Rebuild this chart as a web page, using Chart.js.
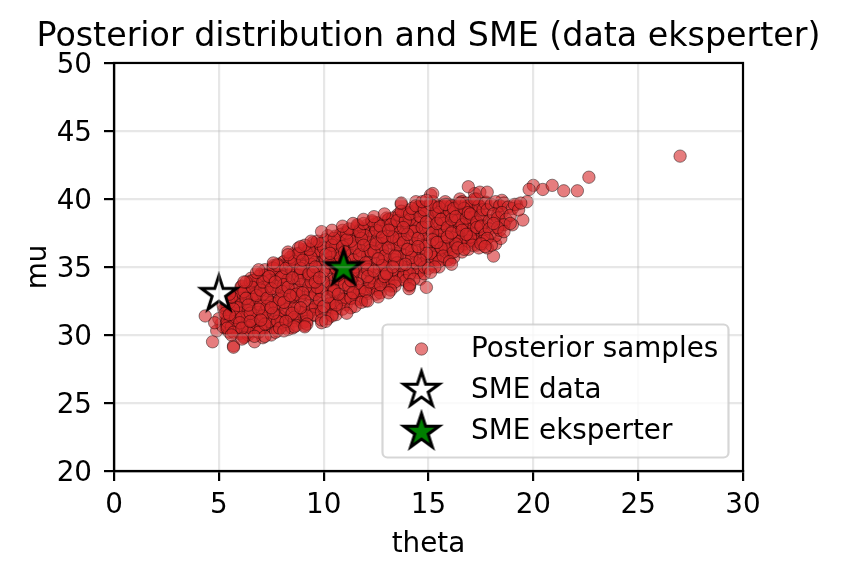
<!DOCTYPE html>
<html>
<head>
<meta charset="utf-8">
<style>
  html, body { margin: 0; padding: 0; background: #fff; }
  canvas { display: block; }
</style>
<script src="https://cdn.jsdelivr.net/npm/chart.js@4"></script>
</head>
<body>
<canvas id="posteriorChart" width="841" height="578"></canvas>
<script>
// ----- DATA -----
const thetaTicks = [0, 5, 10, 15, 20, 25, 30];
const muTicks = [20, 25, 30, 35, 40, 45, 50];
const smeData = [{ x: 5, y: 33 }];
const smeEksperter = [{ x: 10.95, y: 34.9 }];

// the core of the cloud can't be resolved point by point, these are estimates
const thetaSamples = [
  5.33,5.62,5.41,5.71,5.52,5.24,5.66,5.47,5.74,5.56,5.69,5.38,5.58,5.29,5.64,5.51,5.36,5.77,5.43,5.61,
  5.82,6.12,5.89,6.21,6.03,5.76,6.17,5.94,6.26,6.06,6.19,5.91,6.04,5.79,6.13,5.98,5.86,6.24,5.96,6.09,
  6.31,6.59,6.42,6.72,6.48,6.27,6.63,6.44,6.77,6.53,6.68,6.39,6.56,6.33,6.64,6.51,6.37,6.74,6.46,6.61,
  6.83,7.08,6.91,7.19,7.02,6.74,7.16,6.97,7.24,7.04,7.21,6.88,7.07,6.81,7.14,6.99,6.86,7.26,6.93,7.11,
  7.28,7.63,7.38,7.72,7.49,7.26,7.66,7.43,7.73,7.57,7.68,7.41,7.54,7.31,7.62,7.52,7.34,7.76,7.44,7.58,
  7.84,8.09,7.92,8.18,8.03,7.77,8.14,7.96,8.26,8.07,8.21,7.89,8.06,7.82,8.13,7.99,7.87,8.23,7.94,8.11,
  8.33,8.58,8.41,8.71,8.52,8.26,8.64,8.47,8.73,8.56,8.67,8.38,8.54,8.29,8.63,8.51,8.36,8.74,8.43,8.61,
  8.81,9.12,8.88,9.21,9.02,8.76,9.16,8.94,9.24,9.06,9.19,8.91,9.04,8.79,9.13,8.98,8.86,9.27,8.96,9.09,
  9.29,9.61,9.41,9.69,9.52,9.24,9.66,9.46,9.73,9.54,9.71,9.38,9.57,9.32,9.64,9.49,9.36,9.76,9.44,9.59,
  9.82,10.09,9.92,10.21,10.02,9.74,10.16,9.94,10.26,10.04,10.18,9.89,10.06,9.81,10.13,9.98,9.87,10.24,9.93,10.11,
  10.31,10.59,10.42,10.68,10.49,10.26,10.66,10.44,10.74,10.56,10.71,10.39,10.54,10.28,10.63,10.52,10.34,10.76,10.46,10.61,
  10.82,11.11,10.89,11.22,11.01,10.74,11.16,10.93,11.24,11.04,11.21,10.91,11.06,10.79,11.14,10.99,10.86,11.26,10.94,11.08,
  11.31,11.62,11.39,11.71,11.52,11.27,11.66,11.44,11.74,11.56,11.68,11.41,11.54,11.29,11.63,11.49,11.36,11.73,11.43,11.59,
  11.82,12.09,11.91,12.19,12.03,11.76,12.16,11.94,12.24,12.06,12.21,11.88,12.04,11.81,12.14,11.98,11.86,12.26,11.96,12.08,
  12.31,12.62,12.39,12.68,12.51,12.24,12.64,12.44,12.76,12.54,12.71,12.41,12.57,12.32,12.66,12.48,12.36,12.74,12.43,12.61,
  12.83,13.09,12.91,13.21,13.02,12.76,13.13,12.94,13.24,13.06,13.18,12.89,13.04,12.79,13.16,12.98,12.87,13.26,12.93,13.11,
  13.31,13.59,13.41,13.72,13.51,13.26,13.66,13.44,13.74,13.54,13.69,13.39,13.56,13.29,13.63,13.48,13.36,13.76,13.46,13.61,
  13.82,14.12,13.89,14.19,14.01,13.74,14.16,13.94,14.26,14.04,14.22,13.91,14.07,13.81,14.14,13.99,13.86,14.24,13.96,14.09,
  14.29,14.61,14.39,14.71,14.52,14.24,14.66,14.44,14.76,14.57,14.69,14.41,14.54,14.31,14.63,14.49,14.36,14.74,14.46,14.58,
  14.82,15.09,14.91,15.21,15.03,14.76,15.14,14.94,15.26,15.06,15.19,14.89,15.04,14.79,15.16,14.98,14.86,15.24,14.93,15.11,
  15.31,15.61,15.41,15.69,15.52,15.26,15.64,15.46,15.74,15.56,15.71,15.38,15.54,15.29,15.66,15.49,15.36,15.76,15.44,15.59,
  15.81,16.11,15.89,16.19,16.02,15.76,16.16,15.94,16.24,16.06,16.21,15.91,16.04,15.82,16.13,15.98,15.86,16.26,15.96,16.08,
  16.31,16.62,16.39,16.72,16.51,16.24,16.66,16.44,16.74,16.56,16.68,16.41,16.54,16.29,16.64,16.49,16.36,16.76,16.46,16.59,
  16.82,17.09,16.91,17.21,17.02,16.76,17.16,16.94,17.24,17.06,17.19,16.89,17.04,16.79,17.13,16.98,16.87,17.26,16.93,17.11,
  17.31,17.62,17.39,17.72,17.52,17.26,17.66,17.44,17.74,17.56,
  5.1,5.3,4.9,5.4,5.2,5.0,5.5,5.3,4.8,5.6,5.2,5.4,
  5.7,6.0,5.8,6.1,5.9,6.2,5.7,6.0,6.3,5.8,6.1,5.9,
  6.4,6.7,6.5,6.8,6.6,6.9,6.4,6.7,6.5,6.8,6.6,7.0,
  7.1,7.4,7.2,7.5,7.3,7.0,7.6,7.2,7.4,7.1,7.5,7.3,
  7.8,8.1,7.9,8.2,8.0,7.7,8.3,8.0,8.1,7.8,8.2,8.0,
  8.5,8.8,8.6,8.9,8.7,8.4,9.0,8.6,8.8,8.5,8.9,8.7,
  9.2,9.5,9.3,9.6,9.4,9.1,9.7,9.3,9.5,9.2,9.6,9.4,
  9.9,10.2,10.0,10.3,10.1,9.8,10.4,10.0,10.2,9.9,10.3,10.1,
  10.6,10.9,10.7,11.0,10.8,10.5,11.1,10.7,10.9,10.6,11.0,10.8,
  11.3,11.6,11.4,11.7,11.5,11.2,11.8,11.4,11.6,11.3,11.7,11.5,
  12.0,12.3,12.1,12.4,12.2,11.9,12.5,12.1,12.3,12.0,12.4,12.2,
  12.7,13.0,12.8,13.1,12.9,12.6,13.2,12.8,13.0,12.7,13.1,12.9,
  13.4,13.7,13.5,13.8,13.6,13.3,13.9,13.5,13.7,13.4,13.8,13.6,
  14.1,14.4,14.2,14.5,14.3,14.0,14.6,14.2,14.4,14.1,14.5,14.3,
  14.8,15.1,14.9,15.2,15.0,14.7,15.3,14.9,15.1,14.8,15.2,15.0,
  15.5,15.8,15.6,15.9,15.7,15.4,16.0,15.6,15.8,15.5,15.9,15.7,
  16.2,16.5,16.3,16.6,16.4,16.1,16.7,16.3,16.5,16.2,16.6,16.4,
  16.9,17.2,17.0,17.3,17.1,16.8,17.4,17.0,17.2,16.9,17.3,17.1,
  5.4,5.6,5.5,5.7,5.3,5.6,5.8,5.4,5.5,5.7,5.6,5.5,
  6.1,6.4,6.2,6.5,6.3,6.0,6.6,6.2,6.4,6.1,6.5,6.3,
  6.8,7.1,6.9,7.2,7.0,6.7,7.3,6.9,7.1,6.8,7.2,7.0,
  7.5,7.8,7.6,7.9,7.7,7.4,8.0,7.6,7.8,7.5,7.9,7.7,
  8.2,8.5,8.3,8.6,8.4,8.1,8.7,8.3,8.5,8.2,8.6,8.4,
  8.9,9.2,9.0,9.3,9.1,8.8,9.4,9.0,9.2,8.9,9.3,9.1,
  9.6,9.9,9.7,10.0,9.8,9.5,10.1,9.7,9.9,9.6,10.0,9.8,
  10.3,10.6,10.4,10.7,10.5,10.2,10.8,10.4,10.6,10.3,10.7,10.5,
  11.0,11.3,11.1,11.4,11.2,10.9,11.5,11.1,11.3,11.0,11.4,11.2,
  11.7,12.0,11.8,12.1,11.9,11.6,12.2,11.8,12.0,11.7,12.1,11.9,
  12.4,12.7,12.5,12.8,12.6,12.3,12.9,12.5,12.7,12.4,12.8,12.6,
  13.1,13.4,13.2,13.5,13.3,13.0,13.6,13.2,13.4,13.1,13.5,13.3,
  13.8,14.1,13.9,14.2,14.0,13.7,14.3,13.9,14.1,13.8,14.2,14.0,
  14.5,14.8,14.6,14.9,14.7,14.4,15.0,14.6,14.8,14.5,14.9,14.7,
  15.2,15.5,15.3,15.6,15.4,15.1,15.7,15.3,15.5,15.2,15.6,15.4,
  15.9,16.2,16.0,16.3,16.1,15.8,16.4,16.0,16.2,15.9,16.3,16.1,
  16.6,16.9,16.7,17.0,16.8,16.5,17.1,16.7,16.9,16.6,17.0,16.8,
  17.3,17.6,17.4,17.7,17.5,17.2,17.8,17.4,17.6,17.3,17.7,17.5,
  18.0,18.3,18.1,18.4,18.2,18.5,
  16.9,17.45,17.8,20.0,19.8,20.45,20.9,21.45,22.1,22.65,27.0,15.2,
  13.7,14.07,18.1,18.45,19.5,19.0,19.2,18.5,19.7,17.8,18.3,14.9,
  14.9,4.35,4.7,5.7
];
const muSamples = [
  30.45,30.72,31.08,31.27,31.64,31.88,32.25,32.46,32.83,32.97,32.91,32.58,32.34,31.96,31.73,31.37,31.14,30.81,30.53,30.33,
  30.36,30.84,31.06,31.52,31.77,32.24,32.47,32.93,33.18,33.54,33.37,33.04,32.66,32.33,31.94,31.63,31.26,30.92,30.57,30.23,
  30.34,30.68,31.23,31.58,32.14,32.46,32.94,33.37,33.83,34.17,34.03,33.56,33.14,32.67,32.34,31.86,31.43,30.96,30.54,30.24,
  30.53,30.86,31.44,31.87,32.34,32.76,33.24,33.66,34.13,34.57,34.36,33.94,33.47,33.04,32.57,32.13,31.66,31.24,30.67,30.43,
  30.64,31.07,31.63,32.06,32.64,32.97,33.63,33.96,34.54,34.96,34.83,34.26,33.84,33.27,32.83,32.36,31.94,31.37,30.93,30.54,
  30.84,31.26,31.83,32.37,32.94,33.36,33.94,34.37,34.93,35.36,35.23,34.66,34.24,33.57,33.14,32.56,32.13,31.57,31.14,30.73,
  31.14,31.66,32.23,32.77,33.34,33.86,34.43,34.87,35.54,35.96,35.83,35.17,34.74,34.06,33.63,32.97,32.54,31.96,31.43,31.03,
  31.33,31.87,32.54,32.96,33.64,34.17,34.73,35.16,35.83,36.27,36.14,35.46,35.04,34.37,33.93,33.26,32.84,32.17,31.63,31.24,
  31.53,32.07,32.74,33.26,33.94,34.37,35.04,35.56,36.13,36.66,36.54,35.87,35.34,34.66,34.14,33.57,33.03,32.36,31.84,31.43,
  31.73,32.26,32.94,33.47,34.13,34.66,35.34,35.87,36.54,36.97,36.83,36.16,35.64,34.97,34.43,33.76,33.24,32.57,32.03,31.63,
  32.04,32.56,33.23,33.76,34.44,34.97,35.63,36.16,36.84,37.27,37.13,36.46,35.94,35.27,34.73,34.06,33.54,32.86,32.33,31.93,
  32.33,32.87,33.54,34.06,34.73,35.26,35.94,36.46,37.14,37.57,37.43,36.77,36.24,35.56,35.04,34.36,33.83,33.17,32.63,32.23,
  32.74,33.26,33.83,34.36,35.04,35.56,36.24,36.77,37.33,37.86,37.74,37.07,36.54,35.86,35.33,34.67,34.14,33.57,33.04,32.63,
  33.13,33.57,34.24,34.77,35.33,35.86,36.44,36.97,37.63,38.07,37.94,37.26,36.74,36.17,35.63,34.96,34.54,33.86,33.34,33.04,
  33.43,33.96,34.54,35.07,35.64,36.17,36.73,37.26,37.84,38.27,38.13,37.46,37.04,36.37,35.94,35.26,34.84,34.17,33.73,33.33,
  33.83,34.26,34.94,35.37,35.93,36.46,37.04,37.47,38.03,38.46,38.33,37.76,37.24,36.67,36.23,35.66,35.14,34.57,34.13,33.73,
  34.14,34.57,35.23,35.66,36.33,36.76,37.34,37.77,38.43,38.86,38.74,38.07,37.63,37.06,36.54,35.97,35.53,34.87,34.44,34.04,
  34.43,34.96,35.54,35.97,36.63,37.06,37.64,38.07,38.73,39.16,39.04,38.36,37.94,37.37,36.83,36.26,35.84,35.17,34.73,34.33,
  34.84,35.26,35.93,36.36,36.94,37.37,37.93,38.36,39.03,39.46,39.33,38.67,38.24,37.66,37.23,36.66,36.14,35.57,35.13,34.73,
  35.34,35.76,36.33,36.77,37.34,37.76,38.33,38.77,39.23,39.66,39.54,38.96,38.53,37.97,37.54,36.96,36.63,36.07,35.63,35.23,
  35.73,36.07,36.64,36.96,37.53,37.96,38.43,38.87,39.33,39.57,39.53,39.06,38.64,38.16,37.73,37.27,36.83,36.36,35.93,35.64,
  36.13,36.46,36.93,37.36,37.83,38.17,38.63,38.96,39.33,39.56,39.53,39.07,38.83,38.36,38.04,37.56,37.23,36.67,36.34,36.03,
  36.63,36.97,37.34,37.66,38.13,38.37,38.84,39.06,39.43,39.67,39.63,39.16,38.94,38.57,38.23,37.86,37.53,37.07,36.84,36.54,
  37.03,37.27,37.64,37.96,38.33,38.57,38.94,39.16,39.53,39.76,39.63,39.26,39.04,38.66,38.43,38.07,37.84,37.46,37.23,36.93,
  37.43,37.76,38.13,38.36,38.74,38.97,39.23,39.46,39.77,38.04,
  30.8,31.4,30.3,32.1,30.6,31.2,30.2,32.6,30.9,31.7,32.2,30.7,
  29.2,30.1,31.0,33.6,32.4,29.9,32.9,31.6,30.6,30.4,33.1,32.0,
  30.0,29.5,33.9,31.2,32.6,34.3,31.8,33.0,30.7,30.3,34.0,32.2,
  29.8,31.0,34.8,32.4,33.5,30.5,35.1,31.7,34.0,33.0,30.0,32.1,
  30.3,35.4,31.4,33.0,34.3,32.3,30.4,30.9,33.7,35.2,31.9,32.7,
  30.5,36.4,32.0,34.6,33.3,35.5,30.9,31.3,35.9,32.8,34.0,30.7,
  31.0,36.8,33.6,32.1,35.2,30.7,36.2,34.4,31.5,36.0,33.0,35.7,
  30.9,37.3,33.9,32.3,35.5,36.7,31.5,34.7,31.2,33.2,36.1,37.0,
  31.5,37.7,34.1,32.6,36.2,33.2,37.1,35.2,31.9,36.8,33.7,35.7,
  32.0,38.0,34.5,33.3,36.4,37.4,32.6,35.5,33.8,36.9,37.7,35.0,
  32.5,38.3,35.0,33.5,36.8,37.8,33.0,35.9,34.2,37.3,38.1,36.2,
  33.1,38.6,35.4,34.0,37.0,38.2,33.6,36.3,34.6,37.6,38.5,35.8,
  33.6,39.6,35.8,34.3,37.5,38.6,34.0,36.6,35.1,38.0,38.9,37.0,
  33.6,39.8,36.2,34.6,38.0,39.0,34.1,37.1,35.3,38.5,39.4,37.6,
  34.5,40.3,36.6,35.2,38.4,39.4,35.7,37.4,36.0,39.0,39.8,37.9,
  35.0,39.8,37.0,35.5,38.7,39.3,36.2,37.7,36.5,39.0,39.6,38.2,
  35.7,40.0,37.4,36.1,38.9,39.5,36.7,38.0,36.9,39.2,39.8,38.4,
  36.3,40.4,37.6,36.6,39.1,39.7,37.0,38.3,36.9,39.5,40.0,38.6,
  31.0,30.6,32.4,31.9,31.6,32.8,31.3,30.5,33.0,30.2,30.0,31.5,
  31.3,30.2,33.2,31.6,32.7,30.9,33.5,29.8,32.2,30.5,31.0,33.9,
  32.9,31.4,30.2,34.4,33.3,29.9,32.7,31.9,33.9,34.6,30.8,31.1,
  33.4,31.0,34.9,32.6,30.2,34.3,33.2,31.6,35.1,32.0,30.5,33.9,
  34.9,31.6,33.5,30.6,35.7,32.4,33.0,36.1,34.2,31.0,35.4,32.9,
  34.9,31.4,33.1,36.3,32.5,36.0,33.9,35.5,30.8,32.0,34.5,36.6,
  35.0,31.7,33.5,36.4,32.6,34.6,35.9,36.9,31.1,33.9,32.1,34.2,
  35.3,32.2,36.6,34.4,33.3,32.8,37.4,31.4,34.9,36.0,33.0,37.1,
  35.4,32.7,37.5,34.7,33.6,36.5,32.1,37.0,34.0,36.1,33.1,37.8,
  35.9,33.2,37.1,34.8,36.6,38.1,33.9,32.4,35.3,37.6,34.3,38.2,
  36.1,33.7,37.7,35.1,32.8,38.4,34.3,36.7,38.0,34.7,37.2,35.6,
  36.4,33.9,38.1,35.3,37.2,34.5,38.8,33.3,35.8,37.7,38.4,35.0,
  36.8,34.5,38.4,35.7,37.4,39.1,34.1,35.2,38.9,37.9,39.3,36.3,
  37.1,35.0,38.7,36.0,37.9,39.5,34.9,35.5,39.2,36.5,38.3,39.8,
  37.5,35.4,38.9,36.4,38.2,39.6,35.8,35.0,39.4,37.0,38.5,36.8,
  37.9,36.1,39.1,36.7,38.5,39.6,36.4,35.4,39.3,37.2,38.7,37.5,
  38.1,36.9,39.3,37.2,38.6,39.7,36.6,36.3,39.0,37.7,38.9,37.4,
  38.3,36.7,39.5,37.5,38.8,40.0,37.1,36.4,39.2,37.9,39.7,38.0,
  37.5,39.4,38.4,39.0,36.7,38.1,
  40.9,40.5,40.5,41.0,40.7,40.7,41.0,40.6,40.6,41.6,43.15,40.4,
  39.7,33.4,35.8,37.1,38.45,38.1,39.6,39.9,39.8,36.4,38.9,39.9,
  33.5,31.4,29.5,29.1
];

// dense tail on the right and the outer rim of the cloud
const thetaTail = [
  17.8,18.0,18.2,18.4,18.6,18.8,19.0,17.9,18.1,18.3,18.5,18.7,18.9,19.1,19.3,
  17.7,17.9,18.2,18.4,18.6,17.6,17.8,18.0,18.3,18.6,18.9,19.4,17.5,17.7,18.1
];
const muTail = [
  39.2,39.6,39.8,39.5,39.7,39.4,39.3,38.4,38.9,38.6,39.0,38.5,38.8,39.6,39.2,
  37.4,37.8,37.3,37.7,38.1,36.9,37.1,36.6,37.9,37.6,38.2,39.7,36.7,36.5,38.2
];
const thetaRim = [
  6.2,6.9,7.6,8.3,8.9,9.4,9.9,10.4,10.9,11.4,11.9,12.4,12.9,
  6.1,7.2,8.1,9.1,10.1,11.1,12.1,13.1,14.1,15.1,16.1
];
const muRim = [
  33.9,34.8,35.3,35.9,36.5,36.9,37.6,37.7,38.0,38.2,38.5,38.7,38.9,
  29.7,29.9,30.3,30.6,31.0,31.6,32.5,33.1,33.7,34.6,35.2
];

// ----- STAR MARKER (Chart.js 'star' is an asterisk, so draw a filled one) -----
function makeStar(fill) {
  const size = 46, R = 18.5, r = R * 0.382;
  const c = document.createElement('canvas');
  c.width = c.height = size;
  const g = c.getContext('2d');
  g.beginPath();
  for (let i = 0; i < 10; i++) {
    const rad = i % 2 ? r : R;
    const a = -Math.PI / 2 + i * Math.PI / 5;
    g.lineTo(size / 2 + rad * Math.cos(a), size / 2 + rad * Math.sin(a));
  }
  g.closePath();
  g.fillStyle = fill;
  g.fill();
  g.lineWidth = 3;
  g.lineJoin = 'miter';
  g.strokeStyle = '#000';
  g.stroke();
  return c;
}
const whiteStar = makeStar('#ffffff');
const greenStar = makeStar('#008000');

const FONT = 'DejaVu Sans';
const sampleFill = 'rgba(214,39,40,0.6)';
const sampleEdge = 'rgba(0,0,0,0.55)';
const gridOpts = { z: 1, color: 'rgba(176,176,176,0.3)', lineWidth: 2.2, tickColor: '#000', tickWidth: 2.2, tickLength: 10 };

// ----- SPINES + LEGEND (matplotlib style box inside the axes) -----
const frameAndLegend = {
  id: 'frameAndLegend',
  afterLayout(chart) {
    // title is centred on the axes, not on the canvas
    const a = chart.chartArea, mid = (a.left + a.right) / 2;
    chart.titleBlock.left = mid - 414;
    chart.titleBlock.right = mid + 414;
  },
  afterDraw(chart) {
    const { ctx, chartArea: a } = chart;
    ctx.save();
    ctx.lineWidth = 2.2;
    ctx.strokeStyle = '#000';
    ctx.strokeRect(a.left, a.top, a.right - a.left, a.bottom - a.top);

    // legend frame
    ctx.beginPath();
    ctx.roundRect(382.5, 324.5, 346, 133, 5);
    ctx.fillStyle = 'rgba(255,255,255,0.8)';
    ctx.fill();
    ctx.strokeStyle = 'rgba(204,204,204,0.8)';
    ctx.stroke();

    // legend keys
    ctx.beginPath();
    ctx.arc(421.5, 349, 6.2, 0, Math.PI * 2);
    ctx.fillStyle = sampleFill;
    ctx.fill();
    ctx.lineWidth = 0.8;
    ctx.strokeStyle = sampleEdge;
    ctx.stroke();
    ctx.drawImage(whiteStar, 421.5 - 23, 390 - 23);
    ctx.drawImage(greenStar, 421.5 - 23, 432 - 23);

    // legend labels
    ctx.fillStyle = '#000';
    ctx.font = '27.8px "' + FONT + '"';
    ctx.textAlign = 'left';
    ctx.textBaseline = 'alphabetic';
    const rows = [357, 398, 439];
    chart.data.datasets.forEach((d, i) => ctx.fillText(d.label, 471, rows[i]));
    ctx.restore();
  }
};

const allTheta = thetaSamples.concat(thetaTail, thetaRim);
const allMu = muSamples.concat(muTail, muRim);

new Chart(document.getElementById('posteriorChart').getContext('2d'), {
  type: 'scatter',
  plugins: [frameAndLegend],
  data: {
    datasets: [
      {
        label: 'Posterior samples',
        data: allTheta.map((t, i) => ({ x: t, y: allMu[i] })),
        backgroundColor: sampleFill,
        borderColor: sampleEdge,
        borderWidth: 0.8,
        pointRadius: 6.2,
        order: 3
      },
      {
        label: 'SME data',
        data: smeData,
        pointStyle: whiteStar,
        order: 2
      },
      {
        label: 'SME eksperter',
        data: smeEksperter,
        pointStyle: greenStar,
        order: 1
      }
    ]
  },
  options: {
    responsive: false,
    animation: false,
    layout: { padding: { left: 22, right: 98, top: 17, bottom: 14 } },
    plugins: {
      legend: { display: false },
      tooltip: { enabled: false },
      title: {
        display: true,
        text: 'Posterior distribution and SME (data eksperter)',
        color: '#000',
        font: { family: FONT, size: 33.3, weight: 'normal' },
        padding: { top: 0, bottom: 6 }
      }
    },
    scales: {
      x: {
        type: 'linear',
        min: 0,
        max: 30,
        afterBuildTicks: s => { s.ticks = thetaTicks.map(v => ({ value: v })); },
        afterFit: s => { s.height = 93; },
        grid: gridOpts,
        border: { color: '#000', width: 2.2, z: 2 },
        ticks: { color: '#000', maxRotation: 0, font: { family: FONT, size: 27.8 }, padding: 8 },
        title: { display: true, text: 'theta', color: '#000', font: { family: FONT, size: 27.8 }, padding: { top: 4, bottom: 3 } }
      },
      y: {
        type: 'linear',
        min: 20,
        max: 50,
        afterBuildTicks: s => { s.ticks = muTicks.map(v => ({ value: v })); },
        afterFit: s => { s.width = 92; },
        grid: gridOpts,
        border: { color: '#000', width: 2.2, z: 2 },
        ticks: { color: '#000', font: { family: FONT, size: 27.8 }, padding: 12, labelOffset: 2.5 },
        title: { display: true, text: 'mu', color: '#000', font: { family: FONT, size: 27.8 }, padding: { top: 0, bottom: 2 } }
      }
    }
  }
});
</script>
</body>
</html>
